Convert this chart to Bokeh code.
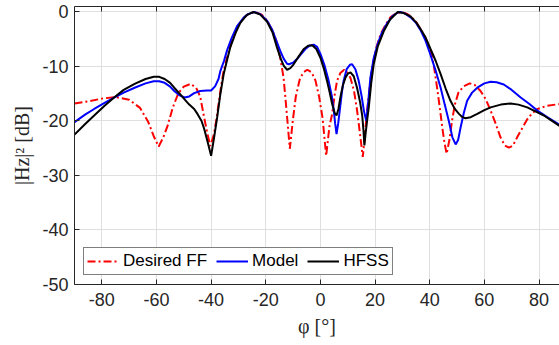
from bokeh.plotting import figure
from bokeh.models import Range1d, FixedTicker, LinearAxis, Legend, LegendItem
from bokeh.embed import file_html
from bokeh.resources import INLINE

# ---------------- data ----------------
phi_ff = [-90, -85, -80, -75, -70, -66, -63, -61, -59.2, -57.5, -56, -54, -52, -50, -47.5, -45.5, -44,
          -42.8, -41.5, -40.3, -39, -38, -36.6, -35.5, -34.2, -32.5, -30.5, -28.5, -26.5, -24, -21.5,
          -19.5, -17.5, -16, -14.7, -13.5, -12.5, -11.2, -10, -9, -7.5, -6, -4.8, -3.2, -1.8, -0.5, 0.8,
          2.1, 3.3, 4.3, 5.2, 6.1, 7.3, 8.7, 10, 11, 12.3, 13.4, 14.4, 15.5, 16.3, 17.1, 18, 18.9, 20.5,
          22, 24, 25.6, 27.5, 29.5, 31.5, 33, 35, 36.6, 38.5, 40.3, 41.5, 42.7, 43.8, 44.6, 45.4, 46.2,
          47.2, 48.2, 49.2, 50.5, 52.5, 54.7, 56.5, 58.6, 60.5, 62.3, 64, 65.9, 67.5, 69, 70.5, 72, 74,
          75.7, 77.5, 79.4, 83, 87.5]
ff = [-16.8, -16.4, -15.9, -15.6, -16.1, -17.6, -20.2, -22.8, -24.7, -23.0, -21.0, -17.5, -14.9, -13.7,
      -13.2, -13.9, -15.5, -18.7, -22.0, -24.6, -22.5, -19.5, -14.5, -11.0, -8.4, -5.5, -2.9, -1.3, -0.4,
      0.0, -0.5, -1.6, -3.5, -5.5, -8.4, -12.0, -17.5, -25.1, -19.5, -15.5, -12.2, -11.0, -10.6, -11.1,
      -12.6, -15.5, -19.5, -26.4, -21.0, -18.7, -15.3, -12.6, -11.2, -10.6, -11.2, -12.1, -14.5, -18.0,
      -22.0, -26.6, -22.5, -18.0, -14.0, -10.2, -6.5, -4.1, -2.2, -1.0, -0.3, 0.0, -0.3, -0.8, -1.8,
      -3.1, -4.8, -7.1, -9.8, -13.9, -18.0, -21.2, -24.0, -26.0, -23.5, -19.9, -17.0, -14.8, -13.6,
      -13.1, -13.4, -14.5, -16.0, -18.1, -20.3, -23.0, -24.5, -24.9, -24.5, -23.0, -21.2, -19.7, -18.6,
      -17.8, -17.2, -16.9]

phi_model = [-90, -86, -82.8, -79, -75.5, -72, -68, -64, -61, -59, -57, -55, -53.5, -51.5, -49.7, -48,
             -46.2, -44, -41.5, -40, -38.5, -37.3, -36.6, -35.3, -34.2, -32.5, -30.5, -28, -26.5, -24.2,
             -22, -19.5, -17.5, -15.9, -14.5, -13.4, -12.2, -11.5, -10, -8.5, -7, -5.5, -4, -2.5, -1.2,
             0, 1.5, 3, 4.2, 4.9, 5.4, 5.9, 6.5, 7.1, 7.8, 8.5, 9.6, 10.8, 11.6, 12.8, 14, 15.1, 15.9,
             16.8, 17.5, 18.3, 19.5, 21, 22.5, 24.5, 26.5, 28.5, 29.3, 31, 33, 35, 36.6, 38.5, 40.3, 42.2,
             44, 45.5, 47, 48.3, 49.5, 50.4, 51.3, 52.5, 53.7, 55.5, 57.4, 60, 62.3, 64.5, 67.1, 70, 73.3,
             76.5, 79.4, 83, 87.5]
model = [-20.2, -18.8, -17.8, -16.7, -15.7, -14.8, -13.9, -13.1, -12.7, -12.7, -13.0, -13.7, -14.5,
         -15.3, -15.7, -15.5, -14.9, -14.5, -14.4, -14.4, -13.6, -12.3, -10.8, -9.0, -7.1, -4.8, -2.6,
         -1.0, -0.4, 0.0, -0.4, -1.6, -3.4, -5.6, -7.4, -8.6, -9.5, -9.6, -9.3, -8.6, -7.7, -6.8, -6.2,
         -6.0, -6.4, -7.7, -9.8, -12.6, -15.5, -18.1, -20.5, -22.4, -20.5, -18.0, -15.0, -12.6, -10.5,
         -9.7, -9.6, -10.5, -12.6, -15.5, -18.1, -20.0, -16.5, -12.0, -8.5, -5.8, -3.8, -2.0, -0.7,
         -0.05, 0.0, -0.3, -1.0, -2.0, -3.3, -5.3, -7.9, -10.8, -13.9, -17.0, -20.0, -23.0, -24.3,
         -23.5, -21.2, -18.5, -16.3, -14.8, -13.9, -13.1, -12.8, -12.9, -13.3, -14.3, -15.7, -16.9,
         -18.1, -19.3, -20.7]

phi_hfss = [-90, -86, -82.8, -79, -75.5, -72, -68, -64, -61, -59, -57, -55, -53.5, -51.5, -49.8, -48,
            -46.2, -45, -43.5, -42.5, -41.2, -40, -38.9, -37.8, -36.6, -35.4, -34, -33, -31, -29.3, -27,
            -24.5, -22, -19.5, -17.5, -15.9, -14.5, -13.4, -12.2, -11, -9.8, -8, -6.1, -4.5, -3, -1.5, 0,
            1.2, 2.4, 3.4, 4.3, 5.2, 5.9, 6.6, 7.3, 8.2, 9.2, 10.1, 11, 12.2, 13.4, 14.5, 15.3, 15.8,
            16.1, 16.6, 17.2, 17.7, 18.6, 19.5, 21, 23.2, 25.5, 28.3, 30.5, 33, 35, 36.6, 38.5, 40.3,
            42.2, 44, 45.8, 47.6, 49.2, 50.7, 52, 53.1, 55, 57.4, 60, 62.3, 66, 69.6, 72.5, 75.7, 78.5,
            81.8, 84.5, 87.5]
hfss = [-22.5, -20.5, -19.0, -17.2, -15.7, -14.3, -13.2, -12.3, -11.9, -11.9, -12.3, -13.0, -13.9,
        -15.0, -16.0, -17.0, -17.8, -18.7, -20.0, -21.5, -24.0, -26.4, -23.0, -19.4, -15.0, -11.4, -8.5,
        -6.5, -3.8, -2.0, -0.6, 0.0, -0.5, -1.8, -3.8, -6.5, -8.6, -9.9, -10.6, -10.3, -9.6, -8.2, -6.8,
        -6.2, -6.1, -6.8, -8.4, -10.3, -12.6, -14.8, -16.9, -18.5, -19.0, -17.8, -15.7, -13.5, -12.0,
        -11.3, -11.1, -11.8, -13.9, -16.5, -19.0, -22.0, -24.5, -22.0, -19.5, -17.5, -13.0, -9.6, -6.3,
        -3.5, -1.4, 0.0, -0.2, -0.8, -1.9, -3.1, -4.7, -6.8, -9.0, -11.4, -14.0, -16.3, -17.8, -18.7,
        -19.3, -19.5, -19.3, -18.7, -18.0, -17.5, -17.0, -16.8, -17.0, -17.5, -18.2, -19.0, -19.9, -20.9]

x_ticks = [-80, -60, -40, -20, 0, 20, 40, 60, 80]
y_ticks = [-50, -40, -30, -20, -10, 0]
series_names = ["Desired FF", "Model", "HFSS"]
x_label = "φ [°]"
y_label = "|Hz|² [dB]"

# ---------------- layout ----------------
W, H = 559, 345
AX = "#262626"
GRID = "#dfdfdf"
TICK_FONT = "Liberation Sans"
SERIF = "Liberation Serif"

p = figure(width=W, height=H, output_backend="svg", toolbar_location=None,
           x_range=Range1d(-90, 87.5), y_range=Range1d(-50, 1),
           min_border_left=74, min_border_right=0, min_border_top=6, min_border_bottom=61)
p.outline_line_color = None
p.background_fill_color = "white"
p.border_fill_color = "white"

for ax in (p.xaxis[0], p.yaxis[0]):
    ax.axis_line_color = AX
    ax.major_tick_line_color = AX
    ax.major_tick_in = 5
    ax.major_tick_out = 0
    ax.minor_tick_line_color = None
    ax.major_label_text_color = AX
    ax.major_label_text_font = TICK_FONT
    ax.major_label_text_font_size = "18px"
    ax.axis_label_text_font = SERIF
    ax.axis_label_text_font_style = "normal"
    ax.axis_label_text_color = AX
    ax.axis_label_text_font_size = "20px"

p.xaxis.ticker = FixedTicker(ticks=x_ticks)
p.yaxis.ticker = FixedTicker(ticks=y_ticks)
p.xaxis.major_label_overrides = {t: str(t) for t in x_ticks}
p.yaxis.major_label_overrides = {t: str(t) for t in y_ticks}
p.xaxis.major_label_standoff = 8
p.yaxis.major_label_standoff = 6
p.xaxis.axis_label = x_label
p.yaxis.axis_label = y_label
p.xaxis.axis_label_standoff = 6
p.yaxis.axis_label_standoff = 6

top = LinearAxis(ticker=FixedTicker(ticks=x_ticks))
top.axis_line_color = AX
top.major_tick_line_color = AX
top.major_tick_in = 5
top.major_tick_out = 0
top.minor_tick_line_color = None
top.major_label_text_color = None
top.major_label_text_font_size = "1px"
top.major_label_standoff = 0
p.add_layout(top, "above")

p.xgrid.ticker = FixedTicker(ticks=x_ticks)
p.ygrid.ticker = FixedTicker(ticks=y_ticks)
p.grid.grid_line_color = GRID
p.grid.grid_line_width = 1

r_ff = p.line(phi_ff, ff, line_color="#ff0000", line_width=2, line_dash="8 3 2 3")
r_model = p.line(phi_model, model, line_color="#0000ff", line_width=2)
r_hfss = p.line(phi_hfss, hfss, line_color="#000000", line_width=2)

legend = Legend(items=[LegendItem(label=series_names[0], renderers=[r_ff]),
                       LegendItem(label=series_names[1], renderers=[r_model]),
                       LegendItem(label=series_names[2], renderers=[r_hfss])],
                orientation="horizontal", location="bottom_left", margin=9,
                padding=3, spacing=9, label_standoff=4, glyph_width=32, glyph_height=20,
                label_height=20, label_text_font=TICK_FONT, label_text_font_size="17px",
                label_text_color="#000000", border_line_color="#000000", border_line_width=1,
                background_fill_color="white", background_fill_alpha=1)
p.add_layout(legend, "center")

open("out.html", "w").write(file_html(p, INLINE))
